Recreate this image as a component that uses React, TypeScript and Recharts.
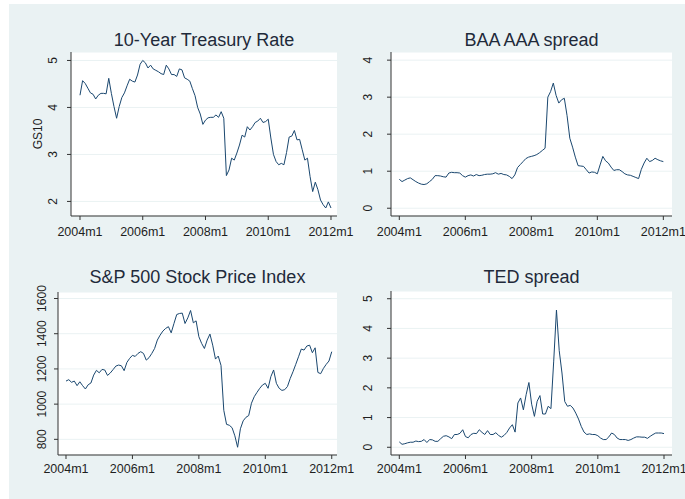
import { LineChart, Line, XAxis, YAxis, CartesianGrid } from "recharts";

// monthly, 2004m1 .. 2012m1
const xTicks = [0, 24, 48, 72, 96];
const xTickLabels = ["2004m1", "2006m1", "2008m1", "2010m1", "2012m1"];

const gs10 = [
  4.26, 4.57, 4.51, 4.41, 4.31, 4.28, 4.18, 4.26, 4.3, 4.3, 4.29, 4.62,
  4.3, 4.02, 3.77, 4.02, 4.21, 4.31, 4.46, 4.6, 4.56, 4.54, 4.69, 4.92,
  5.0, 4.95, 4.84, 4.9, 4.82, 4.79, 4.76, 4.72, 4.7, 4.9, 4.82, 4.7,
  4.7, 4.66, 4.82, 4.8, 4.63, 4.6, 4.56, 4.4, 4.25, 4.0, 3.86, 3.64,
  3.73, 3.78, 3.79, 3.79, 3.84, 3.79, 3.91, 3.77, 2.55, 2.67, 2.92, 2.88,
  3.03, 3.2, 3.41, 3.37, 3.59, 3.52, 3.59, 3.68, 3.71, 3.77, 3.68, 3.7,
  3.75, 3.35, 3.0, 2.85, 2.78, 2.81, 2.78, 3.04, 3.37, 3.39, 3.51, 3.31,
  3.32, 3.1, 2.88, 2.92, 2.53, 2.21, 2.41, 2.25, 2.03, 1.93, 1.86, 1.99,
  1.86,
];

const baaAaa = [
  0.78, 0.72, 0.76, 0.8, 0.82, 0.77, 0.72, 0.68, 0.65, 0.64, 0.66, 0.72,
  0.78, 0.88, 0.88, 0.87, 0.85, 0.84, 0.95, 0.97, 0.96, 0.96, 0.95, 0.88,
  0.84, 0.88, 0.9, 0.87, 0.91, 0.88, 0.89, 0.91, 0.92, 0.92, 0.93, 0.96,
  0.92, 0.94, 0.91, 0.9, 0.86, 0.8, 0.9, 1.1, 1.18, 1.26, 1.34, 1.38,
  1.4, 1.42, 1.45, 1.5, 1.56, 1.62, 3.0, 3.15, 3.38, 3.05, 2.84, 2.93,
  2.97, 2.5, 1.89, 1.65, 1.38, 1.15, 1.14, 1.13, 1.04, 0.95, 0.98, 0.97,
  0.93, 1.17, 1.4, 1.28, 1.22, 1.11, 1.02, 1.04, 1.04, 0.99, 0.93, 0.9,
  0.89, 0.86, 0.83, 0.8, 1.05, 1.22, 1.35, 1.26, 1.29, 1.35, 1.31, 1.28,
  1.26,
];

const sp500 = [
  1131, 1139, 1124, 1131, 1105, 1127, 1105, 1086, 1110, 1120, 1165, 1192,
  1178, 1197, 1194, 1163, 1177, 1196, 1216, 1222, 1218, 1190, 1237, 1260,
  1277, 1271, 1288, 1298, 1288, 1250, 1264, 1288, 1316, 1364, 1392, 1415,
  1430, 1440, 1405, 1458, 1509, 1515, 1517, 1458, 1490, 1532, 1462, 1473,
  1383, 1345, 1316, 1364, 1398, 1335, 1256, 1273, 1220, 965, 885, 880,
  866, 820, 755, 860, 905, 925, 935, 1005, 1042, 1067, 1090, 1109,
  1118, 1090, 1156, 1194, 1118, 1090, 1078, 1082, 1100, 1146, 1184, 1226,
  1269, 1313, 1307, 1330, 1335, 1292, 1320, 1180, 1173, 1203, 1226, 1245,
  1298,
];

const ted = [
  0.18, 0.1, 0.12, 0.15, 0.17, 0.17, 0.21, 0.19, 0.2, 0.26, 0.16, 0.26,
  0.25, 0.2, 0.2, 0.29, 0.37, 0.39, 0.35, 0.29, 0.43, 0.43, 0.47, 0.59,
  0.36, 0.32, 0.43, 0.47, 0.46, 0.59, 0.5, 0.43, 0.56, 0.43, 0.43, 0.49,
  0.4, 0.34, 0.4, 0.5, 0.65, 0.76, 0.51, 1.49, 1.66, 1.26, 1.77, 2.18,
  1.45, 1.04, 1.55, 1.74, 1.12, 1.12, 1.38, 1.3, 2.9, 4.62, 3.25, 2.5,
  1.54, 1.38, 1.41, 1.32, 1.15, 0.95, 0.7, 0.51, 0.43, 0.45, 0.43, 0.43,
  0.39, 0.31, 0.26, 0.26, 0.35, 0.48, 0.43, 0.31, 0.26, 0.26, 0.26, 0.23,
  0.26, 0.31, 0.35, 0.35, 0.34, 0.34, 0.3, 0.37, 0.43, 0.48, 0.48, 0.48,
  0.46,
];

const W = 685;
const H = 499;
const FONT = "'Liberation Sans', Arial, sans-serif";
const LINE = "#1a476f";
const AXIS = "#333333";
const TEXT = "#1e1e1e";
const GRID = "#eaf2f3";
const YW = 40; // y axis band
const XH = 30; // x axis band

type PanelProps = {
  values: number[];
  plot: [number, number, number, number]; // x1, y1, x2, y2 in page px
  xDomain: [number, number];
  yDomain: [number, number];
  yTicks: number[];
  yLabelX: number; // centre of the rotated tick labels
  tickMargin: number;
};

function Panel(p: PanelProps) {
  const [x1, y1, x2, y2] = p.plot;
  const data = p.values.map((v, i) => ({ m: i, v }));
  const bx = p.yLabelX + 4.3;
  return (
    <div style={{ position: "absolute", left: 0, top: 0 }}>
      <LineChart
        width={W}
        height={H}
        data={data}
        margin={{ left: x1 - YW, top: y1, right: W - x2, bottom: H - y2 - XH }}
      >
        <CartesianGrid horizontal vertical={false} stroke={GRID} fill="#ffffff" />
        <XAxis
          type="number"
          dataKey="m"
          domain={p.xDomain}
          ticks={xTicks}
          allowDataOverflow
          height={XH}
          tickSize={4}
          tickMargin={p.tickMargin}
          stroke={AXIS}
          tick={{ fontSize: 12.5, fill: TEXT }}
          tickFormatter={(v) => xTickLabels[xTicks.indexOf(v)]}
          interval={0}
        />
        <YAxis
          type="number"
          domain={p.yDomain}
          ticks={p.yTicks}
          allowDataOverflow
          width={YW}
          tickSize={4}
          stroke={AXIS}
          interval={0}
          tick={(t: any) => (
            <text
              x={bx}
              y={t.y}
              transform={`rotate(-90, ${bx}, ${t.y})`}
              textAnchor="middle"
              fontSize={12}
              fill={TEXT}
            >
              {t.payload.value}
            </text>
          )}
        />
        <Line
          type="linear"
          dataKey="v"
          stroke={LINE}
          strokeWidth={1}
          dot={false}
          isAnimationActive={false}
        />
      </LineChart>
    </div>
  );
}

export default function App() {
  return (
    <div
      style={{
        position: "absolute",
        left: 0,
        top: 0,
        width: W,
        height: H,
        background: "#ffffff",
        fontFamily: FONT,
        overflow: "hidden",
      }}
    >
      <div
        style={{
          position: "absolute",
          left: 9,
          top: 4,
          width: W - 9,
          height: H - 4,
          background: "#eaf2f3",
        }}
      />
      <Panel
        values={gs10}
        plot={[71, 52, 337, 216]}
        xDomain={[-3.44, 98.3]}
        yDomain={[1.69, 5.18]}
        yTicks={[2, 3, 4, 5]}
        yLabelX={53}
        tickMargin={7}
      />
      <Panel
        values={baaAaa}
        plot={[391, 52, 672, 216]}
        xDomain={[-3.02, 99.15]}
        yDomain={[-0.21, 4.22]}
        yTicks={[0, 1, 2, 3, 4]}
        yLabelX={368}
        tickMargin={7}
      />
      <Panel
        values={sp500}
        plot={[58, 292, 337, 455]}
        xDomain={[-2.89, 97.9]}
        yDomain={[711, 1637]}
        yTicks={[800, 1000, 1200, 1400, 1600]}
        yLabelX={42}
        tickMargin={5}
      />
      <Panel
        values={ted}
        plot={[391, 291, 672, 455]}
        xDomain={[-3.01, 98.9]}
        yDomain={[-0.26, 5.26]}
        yTicks={[0, 1, 2, 3, 4, 5]}
        yLabelX={368}
        tickMargin={5}
      />
      <svg
        width={W}
        height={H}
        style={{ position: "absolute", left: 0, top: 0, pointerEvents: "none" }}
      >
        <text x={204} y={45.7} textAnchor="middle" fontSize={18} fill="#1f2a3a">
          10-Year Treasury Rate
        </text>
        <text x={531.5} y={45.7} textAnchor="middle" fontSize={18} fill="#1f2a3a">
          BAA AAA spread
        </text>
        <text x={197.5} y={283.3} textAnchor="middle" fontSize={18} fill="#1f2a3a">
          S&amp;P 500 Stock Price Index
        </text>
        <text x={531.5} y={283.3} textAnchor="middle" fontSize={18} fill="#1f2a3a">
          TED spread
        </text>
        <text
          x={42.3}
          y={134}
          transform="rotate(-90, 42.3, 134)"
          textAnchor="middle"
          fontSize={12}
          fill={TEXT}
        >
          GS10
        </text>
      </svg>
    </div>
  );
}
